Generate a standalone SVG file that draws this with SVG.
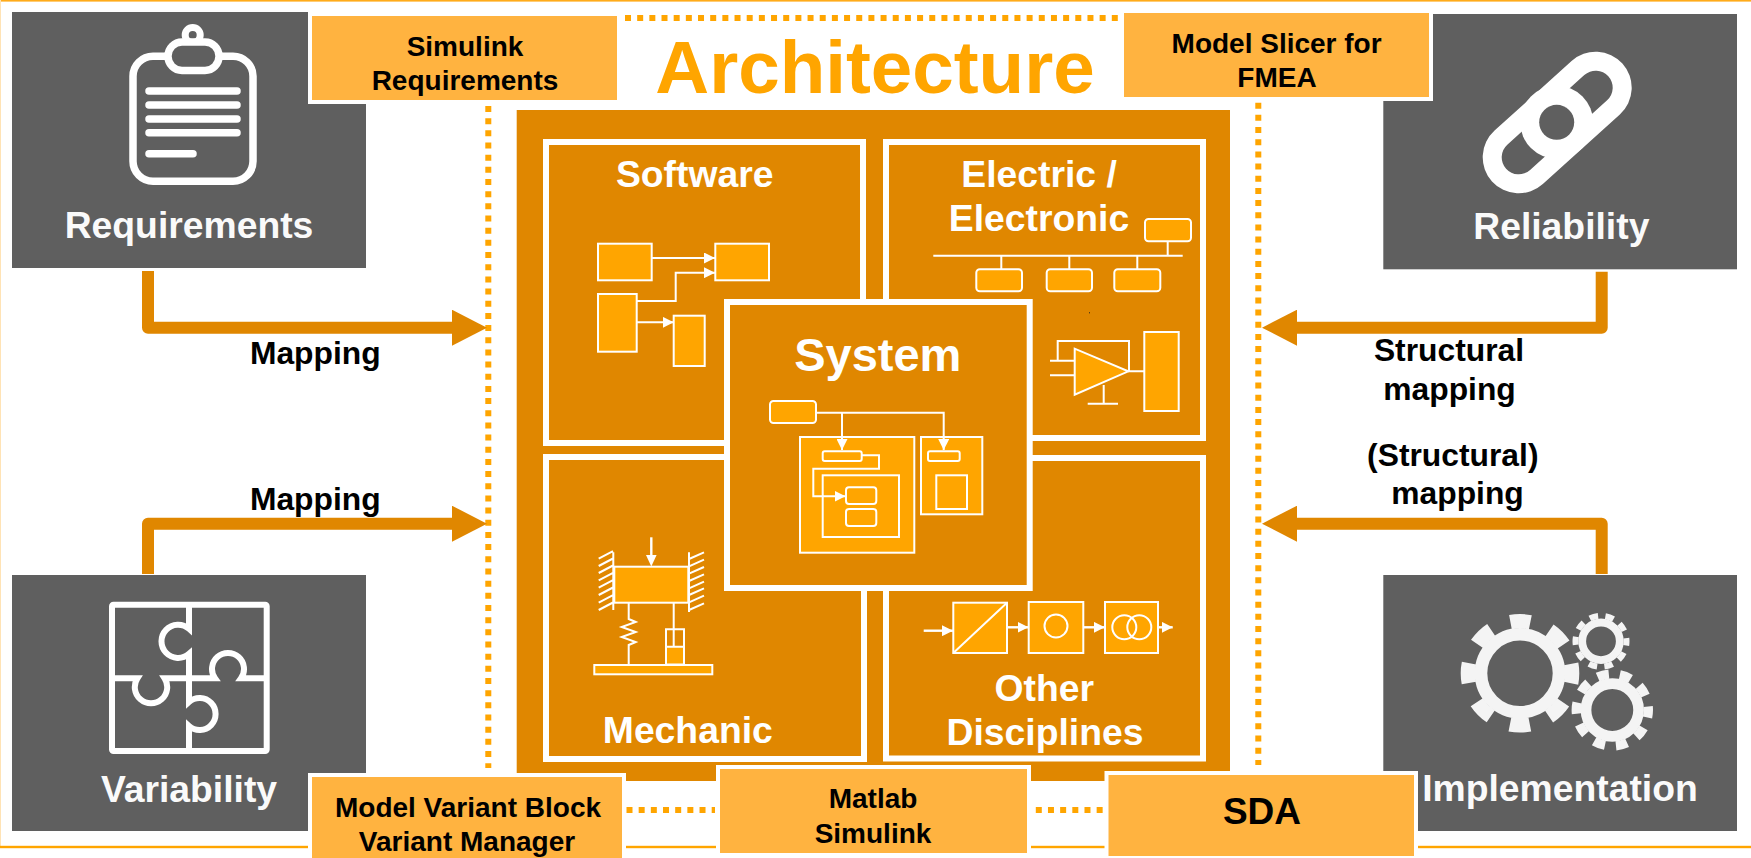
<svg xmlns="http://www.w3.org/2000/svg" width="1751" height="858" viewBox="0 0 1751 858">
<style>
text{font-family:"Liberation Sans",Arial,sans-serif;font-weight:700;text-anchor:middle}
.gray{fill:#5f5f5f}
.graylabel{fill:#fafafa;font-size:37.3px}
.tool{fill:#ffb340;stroke:#fff;stroke-width:4}
.tooltext{fill:#000;font-size:28px}
.map{fill:#000;font-size:31.8px}
.panel{fill:#e08700;stroke:#fff;stroke-width:6}
.paneltext{fill:#fff;font-size:37.3px}
.blk{fill:#ffa500;stroke:#fff;stroke-width:2}
.ln{fill:none;stroke:#fff;stroke-width:2}
.wire{fill:none;stroke:#fff;stroke-width:2;marker-end:url(#wh)}
.wire2{fill:none;stroke:#fff;stroke-width:2.4;marker-end:url(#wh)}
.conn{fill:none;stroke:#e08700;stroke-width:12;stroke-linejoin:round;marker-end:url(#big)}
.dots{fill:none;stroke:#ffa500;stroke-width:6;stroke-dasharray:6 6.17}
.ic{fill:none;stroke:#fff;stroke-linecap:round}
.gear{fill:none;stroke:#f4f4f4}
</style>
<defs>
<marker id="big" markerUnits="userSpaceOnUse" markerWidth="35" markerHeight="36" viewBox="0 0 35 36" refX="0" refY="18" orient="auto"><path d="M0 0L35 18L0 36Z" fill="#e08700"/></marker>
<marker id="wh" markerUnits="userSpaceOnUse" markerWidth="11" markerHeight="11" viewBox="0 0 11 11" refX="11" refY="5.5" orient="auto"><path d="M0 0L11 5.5L0 11Z" fill="#fff"/></marker>
</defs>
<rect width="1751" height="858" fill="#fff"/>
<g id="frame">
<rect x="0" y="0" width="1751" height="1.6" fill="#ffab1a"/>
<rect x="0" y="0" width="1" height="846" fill="#ffe3b5"/>
<rect x="0" y="845.8" width="308" height="2.4" fill="#ffa500"/>
<rect x="626" y="845.8" width="92" height="2.4" fill="#ffa500"/>
<rect x="1030" y="845.8" width="78" height="2.4" fill="#ffa500"/>
<rect x="1418" y="845.8" width="333" height="2.4" fill="#ffa500"/>
</g>
<g id="guides">
<path class="dots" d="M488.3 106V768"/>
<path class="dots" d="M1258.3 102.7V765"/>
<path class="dots" d="M625 18H1120"/>
<path class="dots" d="M626.5 810H715"/>
<path class="dots" d="M1035.8 810H1103"/>
</g>
<g id="architecture-title"><text x="875" y="93.3" font-size="74.6" style="fill:#ffa500">Architecture</text></g>
<g id="architecture-box"><rect x="516.7" y="110" width="713.3" height="671" fill="#e08700"/></g>

<g id="requirements">
<rect class="gray" x="12" y="12" width="354" height="256"/>
<rect x="133" y="56.3" width="120" height="125" rx="20" fill="none" stroke="#fff" stroke-width="7.5"/>
<circle cx="192.7" cy="35" r="7.5" fill="#5f5f5f" stroke="#fff" stroke-width="7"/>
<rect x="168" y="42" width="51" height="28.5" rx="14" fill="#5f5f5f" stroke="#fff" stroke-width="7.5"/>
<path class="ic" stroke-width="7.5" d="M149 91H237M149 105H237M149 119H237M149 132.7H237M149 153.7H193"/>
<text class="graylabel" x="189" y="238">Requirements</text>
</g>
<g id="variability">
<rect class="gray" x="12" y="575" width="354" height="256"/>
<rect x="112" y="604.7" width="154.7" height="146.3" rx="1.5" fill="none" stroke="#fff" stroke-width="6"/>
<path fill="none" stroke="#fff" stroke-width="6" d="M189 604.7V628.8A16.6 16.6 0 1 0 189 653.8V702A16 16 0 1 1 189 726V751"/>
<path fill="none" stroke="#fff" stroke-width="6" d="M112 678.3H137.4A16.2 16.2 0 1 0 164.6 678.3H215A16 16 0 1 1 241 678.3H266.7"/>
<text class="graylabel" x="189" y="801.5">Variability</text>
</g>
<g id="reliability">
<rect class="gray" x="1383.3" y="14" width="353.7" height="255.3"/>
<path d="M1595.7 87.7L1518.7 157.3" fill="none" stroke="#fff" stroke-width="72" stroke-linecap="round"/>
<path d="M1595.7 87.7L1518.7 157.3" fill="none" stroke="#5f5f5f" stroke-width="34" stroke-linecap="round"/>
<circle cx="1556.7" cy="122.3" r="36.5" fill="#fff"/>
<circle cx="1556.7" cy="122.3" r="17.5" fill="#5f5f5f"/>
<text class="graylabel" x="1561.3" y="238.8">Reliability</text>
</g>
<g id="implementation">
<rect class="gray" x="1383.3" y="575" width="353.7" height="256"/>
<circle class="gear" cx="1520" cy="673.3" r="39" stroke-width="12.6"/>
<circle class="gear" cx="1520" cy="673.3" r="52" stroke-width="14.6" stroke-dasharray="20 20.84" stroke-dashoffset="10"/>
<circle class="gear" cx="1601" cy="641.3" r="18.8" stroke-width="7.8"/>
<circle class="gear" cx="1601" cy="641.3" r="25.5" stroke-width="6" stroke-dasharray="8.5 7.52" stroke-dashoffset="4.25"/>
<circle class="gear" cx="1612.3" cy="710" r="26.3" stroke-width="10.7"/>
<circle class="gear" cx="1612.3" cy="710" r="36" stroke-width="9.4" stroke-dasharray="11.5 11.12" stroke-dashoffset="4"/>
<text class="graylabel" x="1560" y="800.5">Implementation</text>
</g>

<g id="connectors">
<path class="conn" d="M148 271V327.7H452"/>
<path class="conn" d="M148 574V523.7H452"/>
<path class="conn" d="M1601.7 271.7V327.7H1297"/>
<path class="conn" d="M1601.7 574V523.7H1297"/>
<text class="map" x="315.3" y="364">Mapping</text>
<text class="map" x="315.3" y="509.5">Mapping</text>
<text class="map" x="1449" y="361">Structural</text>
<text class="map" x="1449.5" y="400">mapping</text>
<text class="map" x="1452.8" y="465.7">(Structural)</text>
<text class="map" x="1457.5" y="504">mapping</text>
</g>

<g id="software">
<rect class="panel" x="546" y="142" width="317" height="301"/>
<text class="paneltext" x="694.7" y="186.7">Software</text>
<rect class="blk" x="598" y="243.7" width="53.7" height="36.6"/>
<rect class="blk" x="715.3" y="243.7" width="53.7" height="36.6"/>
<rect class="blk" x="598" y="294" width="38.7" height="57.7"/>
<rect class="blk" x="673.7" y="315.7" width="31" height="50.3"/>
<path class="wire" d="M651.7 258H715"/>
<path class="wire" d="M636.7 301H675.7V272.7H715"/>
<path class="wire" d="M636.7 322.3H673.7"/>
</g>
<g id="electric">
<rect class="panel" x="886" y="142" width="317" height="296"/>
<text class="paneltext" x="1039" y="186.7">Electric /</text>
<text class="paneltext" x="1039" y="231.3">Electronic</text>
<path class="ln" d="M933.3 255.7H1182.7M1167.7 241V255.7M1001.3 255.7V269M1069.3 255.7V269M1137.3 255.7V269"/>
<rect class="blk" x="1145" y="219" width="46" height="22.3" rx="3.5"/>
<rect class="blk" x="976.3" y="269.3" width="45.7" height="22" rx="3.5"/>
<rect class="blk" x="1046.7" y="269.3" width="45.3" height="22" rx="3.5"/>
<rect class="blk" x="1114.3" y="269.3" width="46" height="22" rx="3.5"/>
<rect x="1089" y="312.3" width="1" height="1" fill="#222"/>
<path class="ln" d="M1050 360.7H1074.7M1050 375.3H1074.7M1057.7 360.7V341H1129V371.3H1145M1103.7 385V403.7M1087.7 403.7H1118"/>
<path class="blk" d="M1074.7 348.7V394.7L1128.3 371.3Z"/>
<rect class="blk" x="1144.3" y="332" width="34.4" height="79"/>
</g>
<g id="mechanic">
<rect class="panel" x="546" y="457" width="318" height="302"/>
<text class="paneltext" x="687.8" y="743.3">Mechanic</text>
<path class="ln" d="M613.3 552.3V610M613 551.2L598.7 558.7M613 558.5L598.7 566M613 565.5L598.7 573M613 572.8L598.7 580.3M613 580.2L598.7 587.7M613 587.5L598.7 595M613 595.2L598.7 602.7M613 602.5L598.7 610"/>
<path class="ln" d="M689 552.3V612M689 559L704 552.3M689 566.4L704 559.7M689 573.7L704 567M689 581L704 574.3M689 588.4L704 581.7M689 595L704 588.3M689 602.4L704 595.7M689 610L704 603.3"/>
<path d="M651.3 537.3V556" fill="none" stroke="#fff" stroke-width="2.4"/>
<path d="M646 555H656.6L651.3 566.5Z" fill="#fff"/>
<rect class="blk" x="614.3" y="566.7" width="74" height="36"/>
<path class="ln" d="M628.7 602.7V619L635.7 622L621.7 627L635.7 632L621.7 637L635.7 642L628.7 645V665M673.7 602.7V646.7"/>
<rect x="666" y="646.7" width="18" height="17.3" fill="#ffa500"/>
<path class="ln" d="M666 629.3H684V664.5H666ZM666 646.7H684"/>
<rect class="blk" x="594.3" y="665" width="118" height="9.3"/>
</g>
<g id="other-disciplines">
<rect class="panel" x="886" y="458" width="317" height="300.5"/>
<text class="paneltext" x="1044.3" y="701">Other</text>
<text class="paneltext" x="1045" y="745">Disciplines</text>
<rect class="blk" x="953.3" y="602.7" width="53.7" height="50.3"/>
<path class="ln" d="M953.3 653L1007 602.7"/>
<rect class="blk" x="1028.7" y="602" width="54.6" height="51"/>
<circle class="ln" cx="1056" cy="626" r="11.5"/>
<rect class="blk" x="1105" y="602" width="53" height="51"/>
<circle class="ln" cx="1124.3" cy="627.3" r="12"/>
<circle class="ln" cx="1139.3" cy="627.3" r="12"/>
<path class="wire2" d="M923.7 630.7H953"/>
<path class="wire2" d="M1007 627.3H1028.5"/>
<path class="wire2" d="M1083.3 627.3H1104.8"/>
<path class="wire2" d="M1158 627.3H1172.7"/>
</g>
<g id="system">
<rect class="panel" x="727" y="302" width="302.7" height="286"/>
<text x="877.8" y="370.7" font-size="47" fill="#fff">System</text>
<rect class="blk" x="800" y="437" width="114.3" height="115.7"/>
<rect class="blk" x="921" y="437" width="61.3" height="77.3"/>
<rect class="blk" x="770" y="401" width="46" height="22" rx="3.5"/>
<path class="wire" d="M816 412.7H943.7V450"/>
<path class="wire" d="M842 412.7V450"/>
<rect class="blk" x="822.7" y="451.3" width="39" height="9.7" rx="2"/>
<rect class="blk" x="928" y="451.3" width="31.7" height="9.7" rx="2"/>
<rect class="blk" x="936.3" y="475.3" width="30.7" height="33.7"/>
<rect class="blk" x="822.7" y="475.3" width="76.3" height="61.7"/>
<path class="wire" d="M861.7 455.3H879V468.7H813.3V496.3H845.5"/>
<rect class="blk" x="846" y="487.3" width="30.3" height="16.7" rx="3"/>
<rect class="blk" x="846" y="509" width="30.3" height="17" rx="3"/>
</g>

<g id="simulink-requirements">
<rect class="tool" x="310" y="14" width="309" height="88"/>
<text class="tooltext" x="465" y="56">Simulink</text>
<text class="tooltext" x="465" y="90">Requirements</text>
</g>
<g id="model-slicer">
<rect class="tool" x="1122" y="11" width="309" height="88"/>
<text class="tooltext" x="1276.6" y="52.7">Model Slicer for</text>
<text class="tooltext" x="1277" y="86.7">FMEA</text>
</g>
<g id="model-variant">
<rect class="tool" x="310" y="775" width="314" height="100"/>
<text class="tooltext" x="468" y="816.7">Model Variant Block</text>
<text class="tooltext" x="467" y="850.7">Variant Manager</text>
</g>
<g id="matlab-simulink">
<rect class="tool" x="718" y="767" width="311" height="88"/>
<text class="tooltext" x="873" y="808.3">Matlab</text>
<text class="tooltext" x="873" y="842.7">Simulink</text>
</g>
<g id="sda">
<rect class="tool" x="1106.5" y="773" width="309.5" height="85"/>
<text x="1262" y="824" font-size="37" fill="#000">SDA</text>
</g>
</svg>
